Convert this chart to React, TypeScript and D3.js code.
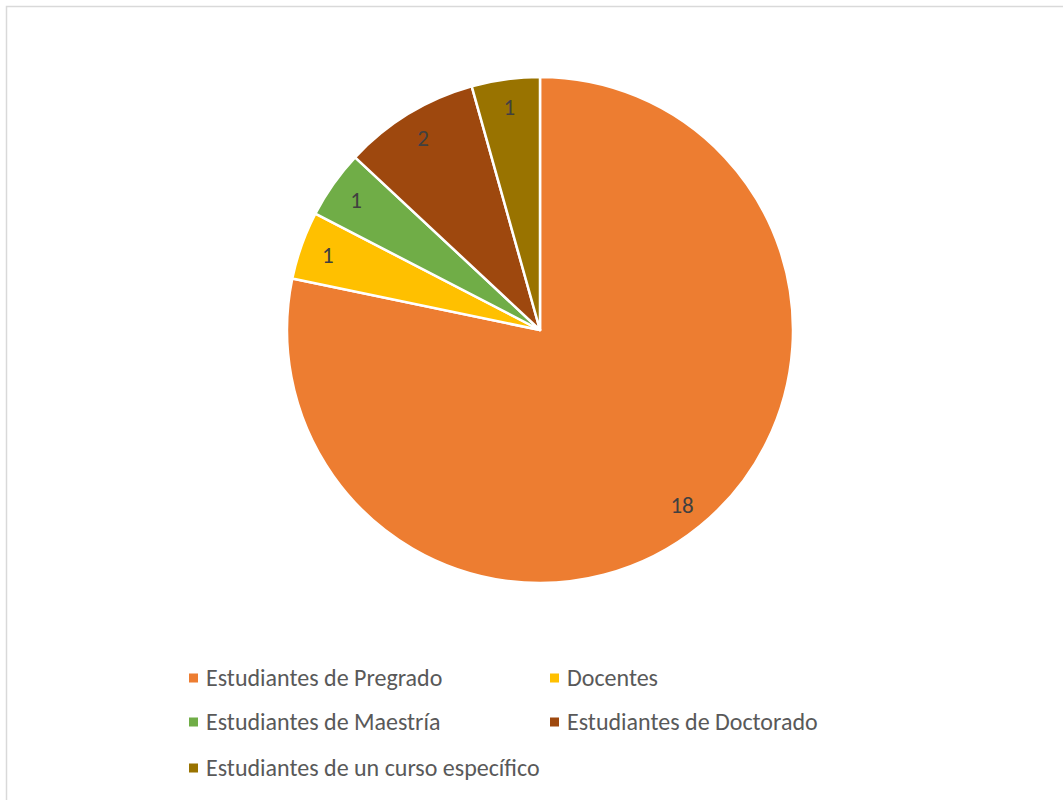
import * as d3 from "d3";

const categories = [
  "Estudiantes de Pregrado",
  "Docentes",
  "Estudiantes de Maestría",
  "Estudiantes de Doctorado",
  "Estudiantes de un curso específico",
];
const values = [18, 1, 1, 2, 1];
const colors = ["#ED7D31", "#FFC000", "#70AD47", "#9E480E", "#997300"];

type Slice = { name: string; value: number; color: string };

export default function App() {
  const width = 1063;
  const height = 800;
  const cx = 540;
  const cy = 330;
  const radius = 253;

  const data: Slice[] = categories.map((name, i) => ({ name, value: values[i], color: colors[i] }));

  const pie = d3.pie<Slice>().value(d => d.value).sort(null);
  const arcs = pie(data);
  const arc = d3.arc<d3.PieArcDatum<Slice>>().innerRadius(0).outerRadius(radius);
  const labelArc = d3.arc<d3.PieArcDatum<Slice>>().innerRadius(radius * 0.89).outerRadius(radius * 0.89);

  const font = "Carlito, 'Liberation Sans', 'Open Sans', sans-serif";

  // legend: 2 columns, 3 rows
  const legendX = [189, 550];
  const legendY = [678, 722, 768];

  return (
    <svg width={width} height={height} style={{ position: "absolute", left: 0, top: 0 }}>
      <rect x={0} y={0} width={width} height={height} fill="#fff" />
      <rect x={6.5} y={6.5} width={width + 10} height={height + 10} fill="none" stroke="#d9d9d9" strokeWidth={1.5} />
      <g transform={`translate(${cx},${cy})`}>
        {arcs.map((a, i) => (
          <path key={i} d={arc(a) || ""} fill={a.data.color} stroke="#fff" strokeWidth={2.5} strokeLinejoin="round" />
        ))}
        {arcs.map((a, i) => {
          const [x, y] = labelArc.centroid(a);
          return (
            <text key={i} x={x} y={y} dy="0.35em" textAnchor="middle" fontFamily={font} fontSize={23} fill="#404040">
              {a.data.value}
            </text>
          );
        })}
      </g>
      <g>
        {data.map((d, i) => {
          const x = legendX[i % 2];
          const y = legendY[Math.floor(i / 2)];
          return (
            <g key={i}>
              <rect x={x} y={y - 4.5} width={9} height={9} fill={d.color} />
              <text x={x + 17} y={y} dy="0.35em" fontFamily={font} fontSize={24} fill="#595959">
                {d.name}
              </text>
            </g>
          );
        })}
      </g>
    </svg>
  );
}
